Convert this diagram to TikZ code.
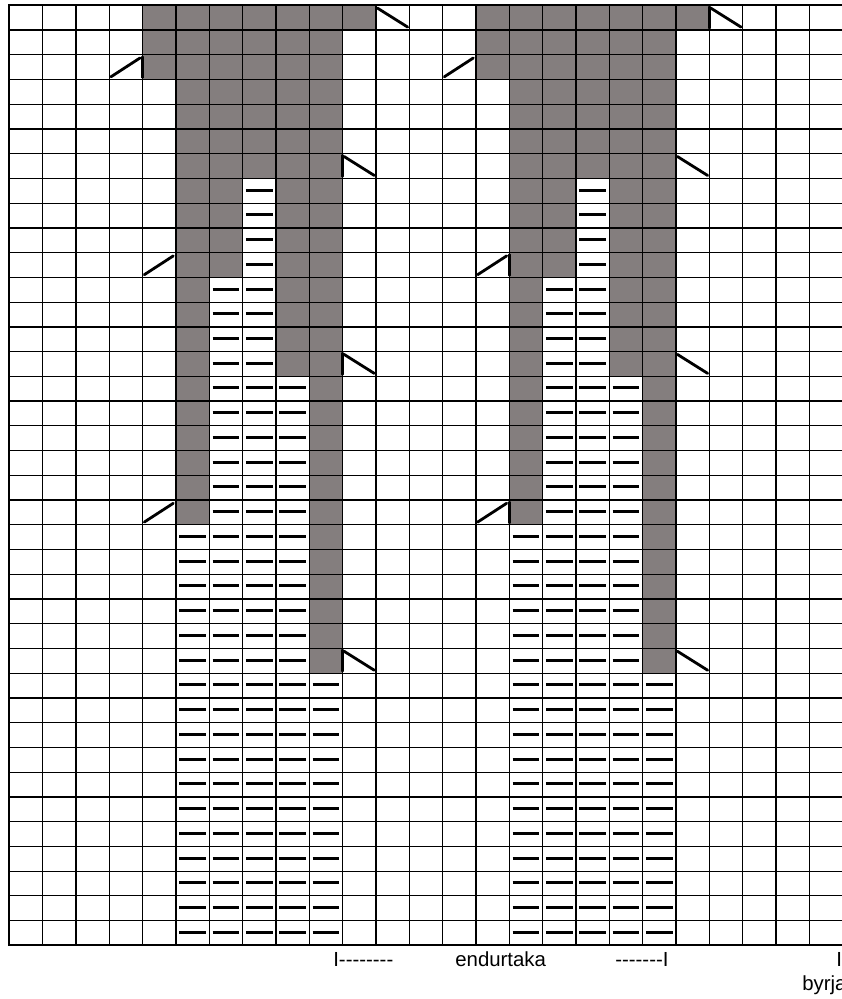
\documentclass[tikz,border=0pt]{standalone}
\usepackage{fontspec}
\newfontfamily\lblfont{Liberation Sans}
\usetikzlibrary{positioning}
\definecolor{stitchgray}{RGB}{132,126,126}
\newcommand{\hy}{-\kern0pt}

\begin{document}
\begin{tikzpicture}[x=0.66667cm, y=-0.49474cm,
    knit/.style={fill=stitchgray},
    gridline/.style={line width=0.7pt},
    purl/.style={line width=1.7pt},
    dec/.style={line width=1.6pt, line cap=round},
    lbl/.style={inner sep=0pt, font=\lblfont\fontsize{11.6}{14}\selectfont}
]
\useasboundingbox (-0.279,-0.214) rectangle (24.951,40.17);

% shaded stitches, one repeat every 10 columns
\foreach \s in {0,10}{
  \fill[knit] (4+\s,0) rectangle (11+\s,1);
  \fill[knit] (4+\s,1) rectangle (10+\s,3);
  \fill[knit] (5+\s,3) rectangle (10+\s,7);
  \fill[knit] (5+\s,7) rectangle (7+\s,11);
  \fill[knit] (8+\s,7) rectangle (10+\s,15);
  \fill[knit] (5+\s,11) rectangle (6+\s,21);
  \fill[knit] (9+\s,15) rectangle (10+\s,27);
}

% chart grid
\foreach \c in {0,...,25} \draw[gridline] (\c,0) -- (\c,38);
\foreach \r in {0,...,38} \draw[gridline] (0,\r) -- (25,\r);
\draw[line width=1pt] (0,0) rectangle (25,38);

\foreach \s in {0,10}{
  % purl dashes
  \foreach \ra/\rb/\ca/\cb in {7/10/7/7, 11/14/6/7, 15/20/6/8, 21/26/5/8, 27/37/5/9}
    \foreach \r in {\ra,...,\rb}
      \foreach \c in {\ca,...,\cb}
        \draw[purl] (\c+\s+0.1,\r+0.47) -- (\c+\s+0.9,\r+0.47);
  % decreases leaning right
  \foreach \c/\r in {11/0, 10/6, 10/14, 10/26}{
    \draw[dec] (\c+\s,\r+0.06) -- (\c+\s,\r+0.92);
    \draw[dec] (\c+\s+0.04,\r+0.11) -- (\c+\s+0.95,\r+0.88);
  }
  % decreases leaning left
  \foreach \c/\r in {3/2, 4/10, 4/20}{
    \draw[dec] (\c+\s+1,\r+0.08) -- (\c+\s+1,\r+0.92);
    \draw[dec] (\c+\s+0.05,\r+0.89) -- (\c+\s+0.92,\r+0.13);
  }
}

\node[lbl, anchor=base west] (repstart) at (9.71,38.84) {I\hy\hy\hy\hy\hy\hy\hy\hy};
\node[lbl, anchor=base west] (repword) at (13.37,38.84) {endurtaka};
\node[lbl, anchor=base west] (repend) at (18.17,38.84) {\hy\hy\hy\hy\hy\hy\hy I};
\node[lbl, anchor=base west] (startbar) at (24.8,38.84) {I};
\node[lbl, anchor=base west] (startword) at (23.78,39.81) {byrja};
\end{tikzpicture}
\end{document}
